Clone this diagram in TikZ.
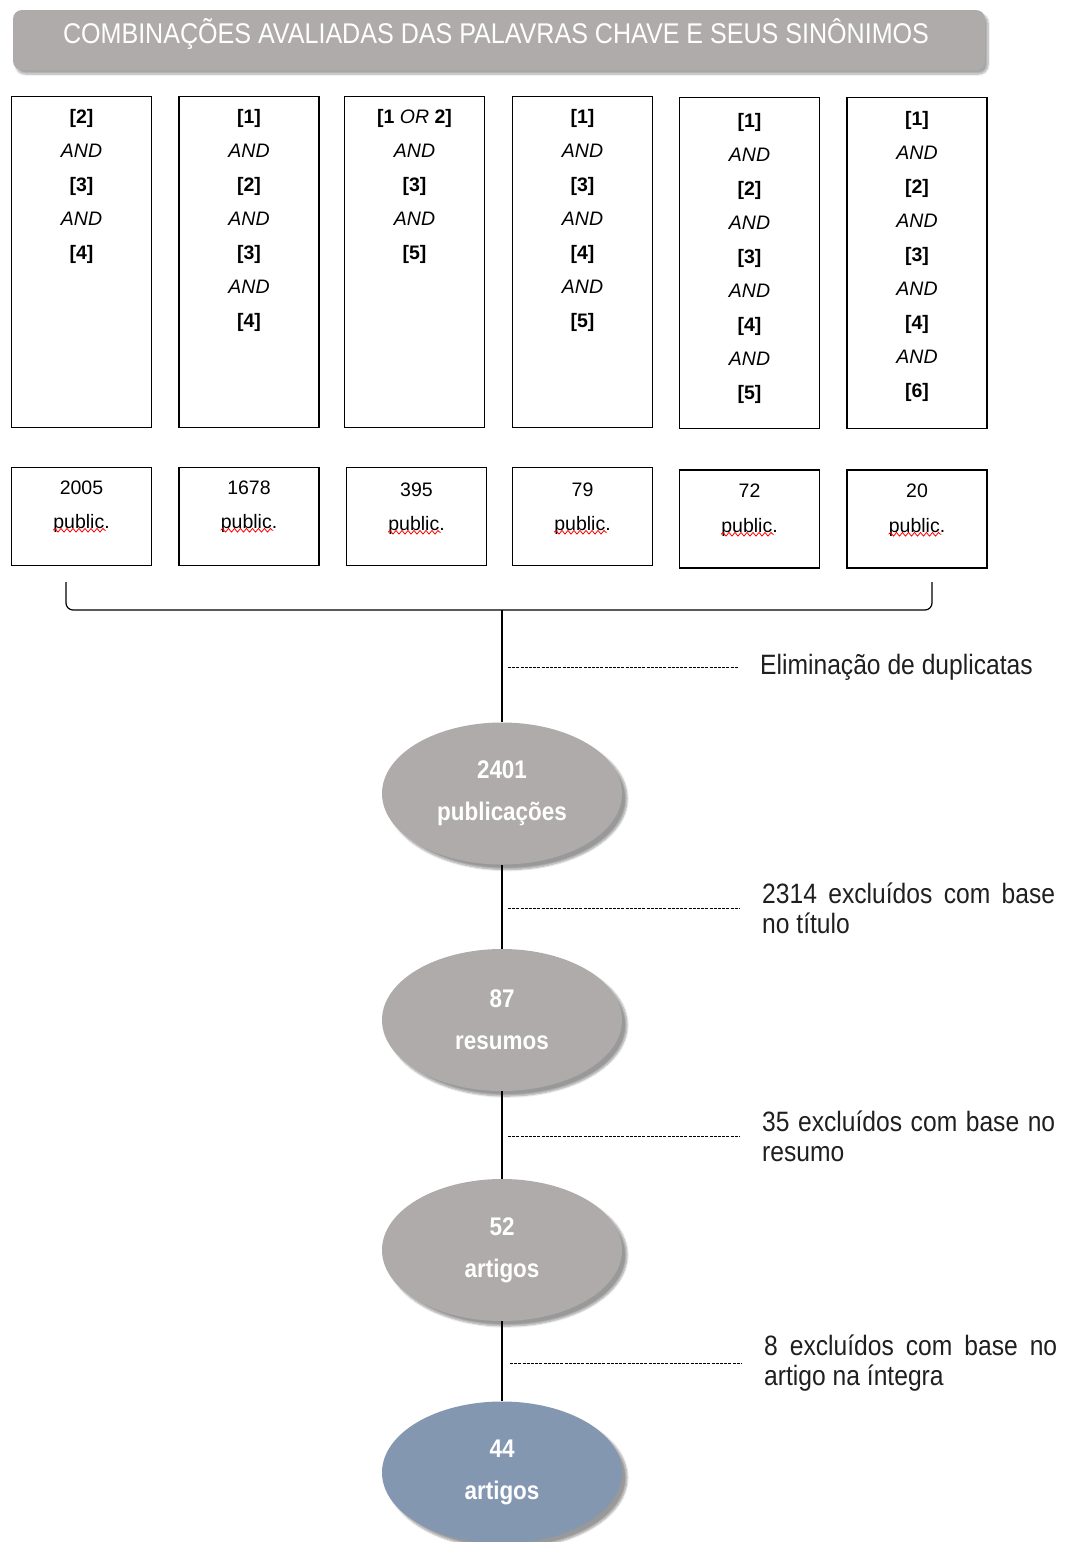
\documentclass[tikz,border=0pt]{standalone}
\usepackage{fontspec}
\setmainfont{Liberation Sans}
\newfontfamily\narrowfont[FakeStretch=0.88]{Liberation Sans}
\usetikzlibrary{shapes.geometric,shadows.blur,decorations.pathmorphing}
\definecolor{stepgray}{HTML}{AEABAA}
\definecolor{finalblue}{HTML}{8497B1}
\newcommand{\kterm}[1]{\textbf{[#1]}}
\newcommand{\kand}{\textit{AND}}

\begin{document}
\begin{tikzpicture}[x=1pt,y=-1pt,
   titlebar/.style={fill=stepgray,rounded corners=9pt,minimum width=972pt,minimum height=60pt,inner sep=0,
      blur shadow={shadow xshift=3pt,shadow yshift=-4pt,shadow blur steps=8,shadow opacity=35}},
   titletext/.style={inner sep=0,text=white,font=\narrowfont\fontsize{28.5}{30}\selectfont},
   combo/.style={draw,line width=1.4pt,minimum width=140pt,minimum height=331pt,inner sep=0},
   combotext/.style={anchor=north,align=center,inner sep=0,font=\fontsize{19.5}{34}\selectfont},
   count/.style={draw,line width=1.4pt,minimum width=140pt,minimum height=98pt,inner sep=0},
   num/.style={inner sep=0,font=\fontsize{19.5}{22}\selectfont},
   squiggle/.style={red,line width=0.8pt,decorate,decoration={snake,amplitude=1.8pt,segment length=6pt}},
   stage/.style={ellipse,fill=stepgray,minimum width=240pt,minimum height=142pt,inner sep=0,text=white,align=center,
      font=\narrowfont\bfseries\fontsize{25.5}{42}\selectfont,
      blur shadow={shadow xshift=5pt,shadow yshift=-5pt,shadow blur steps=8,shadow opacity=40}},
   note/.style={anchor=west,inner xsep=22pt,inner ysep=0,text=black!88,font=\narrowfont\fontsize{28}{30}\selectfont},
   cut/.style={line width=0.9pt,dash pattern=on 3pt off 1.2pt}
]
\useasboundingbox (0,0) rectangle (1065,1542);

\node[titlebar] (bar) at (499,40) {};
\node[titletext] (title) at (496,34) {COMBINAÇÕES AVALIADAS DAS PALAVRAS CHAVE E SEUS SINÔNIMOS};

\node[combo] (b1) at (81.5,262) {};
\node[combo] (b2) at (249,262) {};
\node[combo] (b3) at (414.5,262) {};
\node[combo] (b4) at (582.5,262) {};
\node[combo] (b5) at (749.5,263) {};
\node[combo] (b6) at (917,263) {};
\node[combotext] (t1) at (81.5,109) {\kterm{2}\\\kand\\\kterm{3}\\\kand\\\kterm{4}};
\node[combotext] (t2) at (249,109) {\kterm{1}\\\kand\\\kterm{2}\\\kand\\\kterm{3}\\\kand\\\kterm{4}};
\node[combotext] (t3) at (414.5,109) {\textbf{[1} \textit{OR} \textbf{2]}\\\kand\\\kterm{3}\\\kand\\\kterm{5}};
\node[combotext] (t4) at (582.5,109) {\kterm{1}\\\kand\\\kterm{3}\\\kand\\\kterm{4}\\\kand\\\kterm{5}};
\node[combotext] (t5) at (749.5,113) {\kterm{1}\\\kand\\\kterm{2}\\\kand\\\kterm{3}\\\kand\\\kterm{4}\\\kand\\\kterm{5}};
\node[combotext] (t6) at (917,111) {\kterm{1}\\\kand\\\kterm{2}\\\kand\\\kterm{3}\\\kand\\\kterm{4}\\\kand\\\kterm{6}};

\node[count] (c1) at (81.5,516.5) {};
\node[count] (c2) at (249,516.5) {};
\node[count] (c3) at (416.5,516.5) {};
\node[count] (c4) at (582.5,516.5) {};
\node[count] (c5) at (749.5,519) {};
\node[count] (c6) at (917,519) {};
\node[num] (c1n) at (81.5,488) {2005};
\node[num] (c2n) at (249,488) {1678};
\node[num] (c3n) at (416.5,490) {395};
\node[num] (c4n) at (582.5,490) {79};
\node[num] (c5n) at (749.5,491) {72};
\node[num] (c6n) at (917,491) {20};
\node[num] (c1p) at (81.5,523) {public.};
\node[num] (c2p) at (249,523) {public.};
\node[num] (c3p) at (416.5,525) {public.};
\node[num] (c4p) at (582.5,525) {public.};
\node[num] (c5p) at (749.5,527) {public.};
\node[num] (c6p) at (917,527) {public.};
\draw[squiggle] ([yshift=2pt]c1p.south west) -- ([xshift=-4pt,yshift=2pt]c1p.south east);
\draw[squiggle] ([yshift=2pt]c2p.south west) -- ([xshift=-4pt,yshift=2pt]c2p.south east);
\draw[squiggle] ([yshift=2pt]c3p.south west) -- ([xshift=-4pt,yshift=2pt]c3p.south east);
\draw[squiggle] ([yshift=2pt]c4p.south west) -- ([xshift=-4pt,yshift=2pt]c4p.south east);
\draw[squiggle] ([yshift=2pt]c5p.south west) -- ([xshift=-4pt,yshift=2pt]c5p.south east);
\draw[squiggle] ([yshift=2pt]c6p.south west) -- ([xshift=-4pt,yshift=2pt]c6p.south east);

\coordinate (bl) at (66,582);
\coordinate (br) at (932,582);
\coordinate (brk) at (502,610);
\draw[line width=1.2pt,rounded corners=7pt] (bl) |- (brk) -| (br);

\node[stage] (e1) at (502,793.5) {2401\\publicações};
\node[stage] (e2) at (502,1020) {87\\resumos};
\node[stage] (e3) at (502,1250) {52\\artigos};
\node[stage,fill=finalblue] (e4) at (502,1472.5) {44\\artigos};
\draw[line width=1.1pt] (brk) -- (e1);
\draw[line width=1.1pt] (e1) -- (e2);
\draw[line width=1.1pt] (e2) -- (e3);
\draw[line width=1.1pt] (e3) -- (e4);

\node[note] (l1) at (738,667) {Eliminação de duplicatas};
\node[note,text width=293pt,align=justify] (l2) at (740,908) {2314 excluídos com base\linebreak no título};
\node[note,text width=293pt,align=justify] (l3) at (740,1136) {35 excluídos com base no\linebreak resumo};
\node[note,text width=293pt,align=justify] (l4) at (742,1363) {8 excluídos com base no\linebreak artigo na íntegra};
\coordinate (d1) at (508,667);
\coordinate (d2) at (508,908);
\coordinate (d3) at (508,1136);
\coordinate (d4) at (510,1363);
\draw[cut] (d1) -- (l1.west);
\draw[cut] (d2) -- (l2.west);
\draw[cut] (d3) -- (l3.west);
\draw[cut] (d4) -- (l4.west);
\end{tikzpicture}
\end{document}
